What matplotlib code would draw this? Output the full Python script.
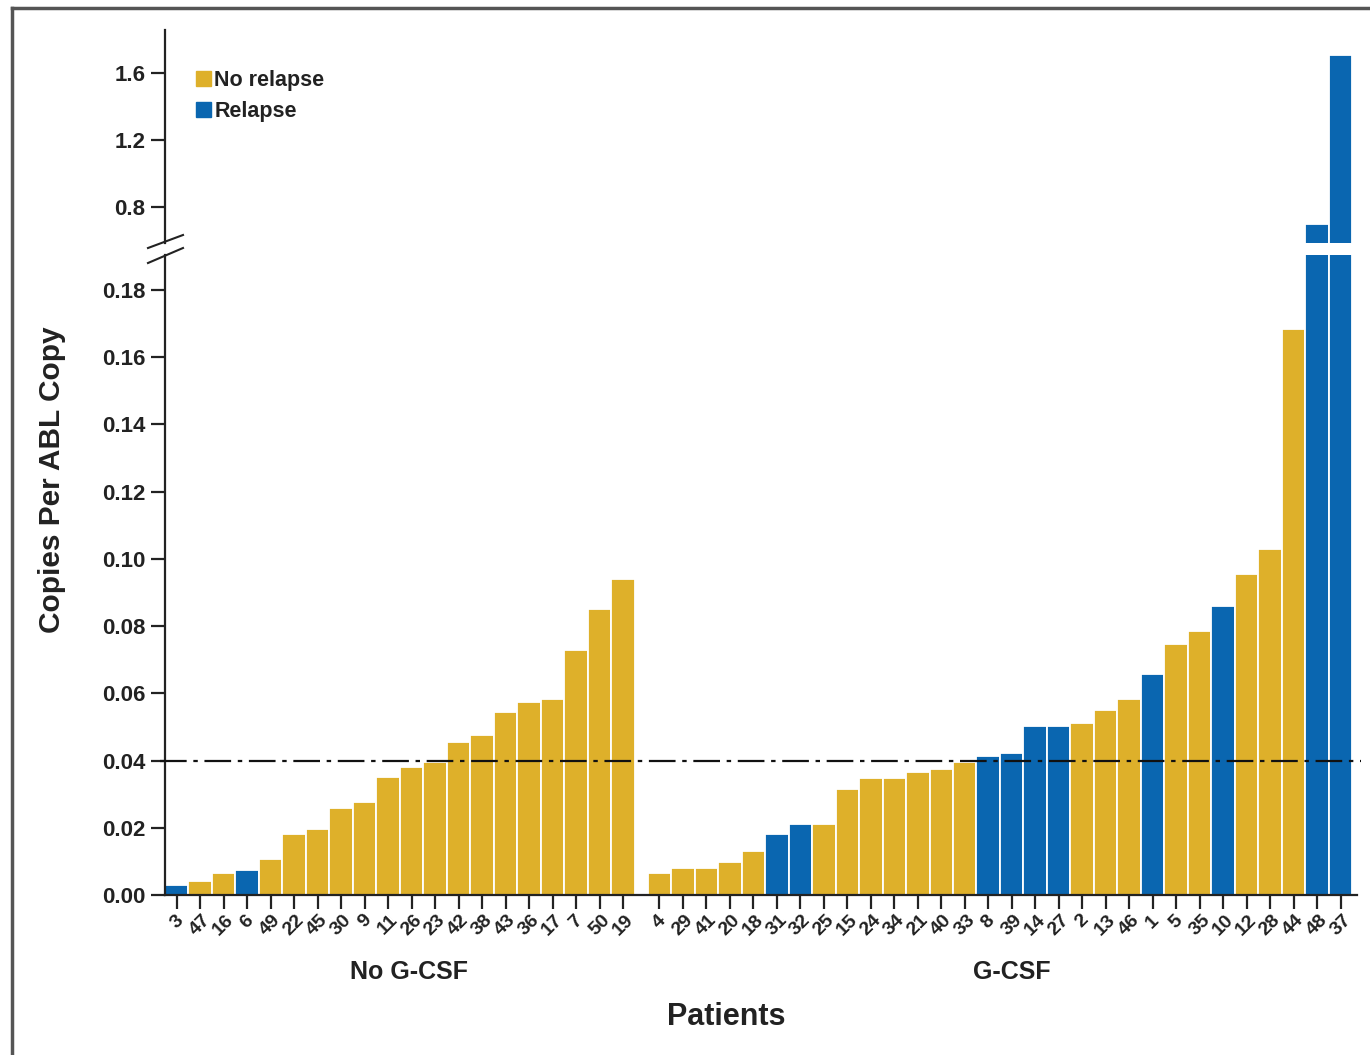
import numpy as np
import matplotlib
matplotlib.use("Agg")
import matplotlib.pyplot as plt
from matplotlib.lines import Line2D
from matplotlib.patches import Patch
import matplotlib.transforms as mtransforms

# ---------------------------------------------------------------------------
# data
# ---------------------------------------------------------------------------
no_gcsf_ids = ['3', '47', '16', '6', '49', '22', '45', '30', '9', '11',
               '26', '23', '42', '38', '43', '36', '17', '7', '50', '19']
no_gcsf_vals = [0.003, 0.0042, 0.0065, 0.0074, 0.0107, 0.018, 0.0196, 0.026,
                0.0277, 0.035, 0.038, 0.0396, 0.0455, 0.0476, 0.0544, 0.0574,
                0.0583, 0.0729, 0.0851, 0.094]
no_gcsf_relapse = [1, 0, 0, 1, 0, 0, 0, 0, 0, 0,
                   0, 0, 0, 0, 0, 0, 0, 0, 0, 0]

gcsf_ids = ['4', '29', '41', '20', '18', '31', '32', '25', '15', '24',
            '34', '21', '40', '33', '8', '39', '14', '27', '2', '13',
            '46', '1', '5', '35', '10', '12', '28', '44', '48', '37']
gcsf_vals = [0.0065, 0.008, 0.008, 0.0098, 0.0131, 0.018, 0.0211, 0.0211,
             0.0315, 0.0348, 0.0348, 0.0366, 0.0375, 0.0396, 0.0414, 0.0423,
             0.0503, 0.0503, 0.0512, 0.055, 0.0583, 0.0658, 0.0747, 0.0785,
             0.086, 0.0955, 0.103, 0.1684, 0.70, 1.71]
gcsf_relapse = [0, 0, 0, 0, 0, 1, 1, 0, 0, 0,
                0, 0, 0, 0, 1, 1, 1, 1, 0, 0,
                0, 1, 0, 0, 1, 0, 0, 0, 1, 1]

group_names = ['No G-CSF', 'G-CSF']
cutoff = 0.04

gold = '#DEB02A'
blue = '#0A66B0'

# ---------------------------------------------------------------------------
# positions
# ---------------------------------------------------------------------------
gap = 1.05
x1 = np.arange(len(no_gcsf_vals))
x2 = np.arange(len(gcsf_vals)) + len(no_gcsf_vals) + gap - 0.5
xs = np.concatenate([x1, x2])
vals = np.array(no_gcsf_vals + gcsf_vals)
rel = np.array(no_gcsf_relapse + gcsf_relapse)
cols = [blue if r else gold for r in rel]
labels = no_gcsf_ids + gcsf_ids

W, H = 1370, 1055
fig = plt.figure(figsize=(W / 100, H / 100), dpi=100)
plt.rcParams['font.family'] = ['Liberation Sans', 'DejaVu Sans']

def fx(px):
    return px / W

def fy(py):
    return 1 - py / H

left, right = 165, 1357
ax = fig.add_axes([fx(left), fy(895), fx(right) - fx(left), fy(255) - fy(895)])
axt = fig.add_axes([fx(left), fy(243), fx(right) - fx(left), fy(30) - fy(243)])

for a in (ax, axt):
    a.bar(xs, vals, width=1.0, color=cols, edgecolor='white', linewidth=1.3)
    a.set_xlim(-0.5, xs[-1] + 0.7)
    a.spines['top'].set_visible(False)
    a.spines['right'].set_visible(False)
    a.spines['left'].set_linewidth(1.6)
    a.spines['left'].set_color('#222222')
    a.tick_params(axis='y', length=10, width=1.6, color='#222222',
                  labelsize=16, pad=4)

# lower axis
ax.set_ylim(0, 0.1904)
ax.set_yticks(np.arange(0, 0.181, 0.02))
ax.set_yticklabels(['%.2f' % v for v in np.arange(0, 0.181, 0.02)],
                   fontweight='bold', color='#222222')
ax.spines['bottom'].set_linewidth(1.6)
ax.spines['bottom'].set_color('#222222')
ax.set_xticks(xs)
ax.set_xticklabels(labels, rotation=45, ha='center', fontsize=14,
                   fontweight='bold', color='#222222')
ax.tick_params(axis='x', length=10, width=1.6, color='#222222', pad=2)
ax.axhline(cutoff, xmin=-0.004, xmax=1.003, color='#111111', lw=1.6,
           dashes=(12, 3, 2, 3), clip_on=False, zorder=5)

# upper axis
axt.set_ylim(0.585, 1.857)
axt.set_yticks([0.8, 1.2, 1.6])
axt.set_yticklabels(['0.8', '1.2', '1.6'], fontweight='bold', color='#222222')
axt.spines['bottom'].set_visible(False)
axt.set_xticks([])

# group labels
trans = mtransforms.blended_transform_factory(ax.transData, ax.transAxes)
ax.text(x1.mean() + 0.4, -0.12, group_names[0], transform=trans, ha='center',
        va='center', fontsize=18, fontweight='bold', color='#222222')
ax.text(x2.mean() + 0.5, -0.12, group_names[1], transform=trans, ha='center',
        va='center', fontsize=18, fontweight='bold', color='#222222')

fig.text(fx(726), fy(1017), 'Patients', ha='center', va='center',
         fontsize=22, fontweight='bold', color='#222222')
fig.text(fx(52), fy(480), 'Copies Per ABL Copy', ha='center', va='center',
         rotation=90, fontsize=21.5, fontweight='bold', color='#222222')

# legend
handles = [Patch(color=gold, label='No relapse'), Patch(color=blue, label='Relapse')]
leg = fig.legend(handles=handles, loc='upper left',
                 bbox_to_anchor=(fx(196), fy(70)), frameon=False,
                 prop={'size': 15.5, 'weight': 'bold'},
                 handlelength=0.7, handleheight=0.7, handletextpad=0.15,
                 labelspacing=0.45, borderpad=0, borderaxespad=0)
for t in leg.get_texts():
    t.set_color('#222222')

# axis break marks
for y0, y1 in [(248, 235), (263, 248)]:
    fig.add_artist(Line2D([fx(148), fx(183)], [fy(y0), fy(y1)],
                          color='#222222', lw=1.5))

# page frame
fig.add_artist(Line2D([fx(12), 1.0], [fy(8), fy(8)], color='#555555', lw=2.5))
fig.add_artist(Line2D([fx(12), fx(12)], [fy(8), 0.0], color='#555555', lw=2.5))

fig.savefig('out.png', dpi=100)
